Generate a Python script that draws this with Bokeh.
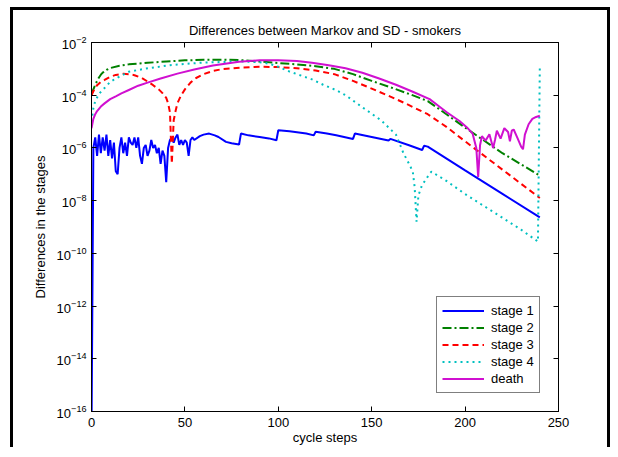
from bokeh.plotting import figure
from bokeh.models import Range1d, FixedTicker, LinearAxis, LogAxis
from bokeh.embed import file_html
from bokeh.resources import INLINE

title_text = "Differences between Markov and SD - smokers"
x_label = "cycle steps"
y_label = "Differences in the stages"
x_ticks = [0, 50, 100, 150, 200, 250]
y_ticks = [1e-16, 1e-14, 1e-12, 1e-10, 1e-8, 1e-6, 1e-4, 1e-2]

stage1_x = list(range(0, 56)) + [58, 60, 63, 66, 68, 72, 75, 79, 80, 84, 90, 95, 99, 100,
                                 106, 115, 119, 120, 126, 131, 140, 141, 150, 159, 160,
                                 170, 177, 178, 180, 200, 220, 240]
stage1_y = [1e-17, 1.0e-6, 2.5e-6, 5.0e-7, 3.2e-6, 6.3e-7, 2.5e-6, 7.9e-7, 3.2e-6, 5.0e-7,
            2.0e-6, 4.0e-7, 1.6e-6, 1.3e-7, 1.0e-7, 1.0e-6, 2.5e-6, 6.3e-7, 1.6e-6, 5.0e-7,
            2.5e-6, 1.6e-6, 1.3e-6, 2.5e-6, 1.0e-6, 2.5e-6, 5.0e-7, 2.5e-7, 1.0e-6, 1.3e-6,
            5.0e-7, 7.9e-7, 2.0e-6, 1.0e-6, 1.3e-6, 6.3e-7, 1.0e-6, 2.5e-7, 7.9e-7, 5.0e-7,
            5.0e-8, 1.0e-6, 2.0e-6, 2.5e-6, 1.6e-6, 2.5e-6, 3.2e-6, 1.3e-6, 2.0e-6, 1.3e-6,
            2.0e-6, 1.6e-6, 5.0e-7, 2.0e-6, 2.5e-6, 2.0e-6,
            2.8e-6, 3.2e-6, 3.5e-6, 3.0e-6, 2.6e-6, 1.7e-6, 1.5e-6, 1.35e-6, 3.5e-6, 3.0e-6,
            2.6e-6, 2.3e-6, 1.95e-6, 4.7e-6, 4.3e-6, 3.5e-6, 3.0e-6, 4.1e-6, 3.5e-6, 3.0e-6,
            2.2e-6, 3.5e-6, 2.6e-6, 1.9e-6, 2.2e-6, 1.26e-6, 8.3e-7, 1.2e-6, 1.12e-6,
            1.4e-7, 1.8e-8, 2.3e-9]

stage2_x = [0, 1, 2, 3, 4, 5, 6, 8, 10, 15, 20, 30, 40, 50, 60, 70, 80, 90, 100, 110,
            120, 130, 140, 150, 160, 170, 180, 190, 200, 220, 240]
stage2_y = [1.1e-4, 1.66e-4, 2.5e-4, 3.5e-4, 4.7e-4, 6.0e-4, 7.2e-4, 9.1e-4, 1.07e-3,
            1.32e-3, 1.48e-3, 1.7e-3, 1.9e-3, 2.1e-3, 2.2e-3, 2.24e-3, 2.14e-3, 1.9e-3,
            1.66e-3, 1.48e-3, 1.26e-3, 1.0e-3, 6.3e-4, 3.5e-4, 2.0e-4, 1.12e-4, 6.0e-5,
            1.9e-5, 5.9e-6, 6.3e-7, 8.9e-8]

stage3_x = [0, 1, 2, 3, 5, 7, 10, 13, 17, 20, 23, 27, 30, 33, 36, 38, 40, 41, 42, 43,
            44, 45, 46, 48, 50, 53, 56, 60, 65, 70, 80, 90, 100, 110, 120, 130, 140,
            150, 160, 170, 180, 190, 200, 220, 240]
stage3_y = [1.0e-4, 1.41e-4, 1.9e-4, 2.4e-4, 3.2e-4, 3.8e-4, 5.0e-4, 5.9e-4, 6.5e-4,
            6.3e-4, 5.75e-4, 4.5e-4, 3.3e-4, 2.4e-4, 1.66e-4, 1.2e-4, 7.9e-5, 5.0e-5,
            2.24e-5, 2.5e-7, 1.12e-5, 2.5e-5, 5.0e-5, 1.0e-4, 1.66e-4, 3.0e-4, 4.5e-4,
            6.3e-4, 8.3e-4, 9.8e-4, 1.12e-3, 1.2e-3, 1.17e-3, 1.05e-3, 8.7e-4, 6.3e-4,
            3.5e-4, 1.78e-4, 8.9e-5, 4.2e-5, 1.9e-5, 6.3e-6, 1.78e-6, 1.5e-7, 1.26e-8]

stage4_x = [0, 1, 2, 4, 6, 10, 13, 20, 29, 42, 60, 80, 90, 95, 100, 106, 118, 124, 131,
            136, 145, 155, 163, 167, 170, 172, 173, 174, 175, 177, 179, 181, 182, 190,
            200, 210, 220, 230, 239, 240]
stage4_y = [1.0e-5, 3.2e-5, 6.0e-5, 1.12e-4, 1.58e-4, 3.2e-4, 4.3e-4, 7.8e-4, 1.02e-3,
            1.38e-3, 1.74e-3, 1.9e-3, 1.78e-3, 1.58e-3, 1.2e-3, 7.9e-4, 4.0e-4, 2.5e-4,
            1.55e-4, 1.0e-4, 3.5e-5, 1.12e-5, 3.2e-6, 6.3e-7, 2.5e-7, 1.26e-7, 3.2e-8,
            1.58e-9, 1.58e-8, 4.0e-8, 6.3e-8, 1.07e-7, 1.26e-7, 5.6e-8, 1.78e-8, 6.3e-9,
            2.24e-9, 7.9e-10, 2.8e-10, 1.26e-3]

death_x = [0, 1, 2, 3, 5, 7, 10, 13, 16, 20, 25, 30, 37, 46, 55, 65, 79, 90, 100, 110,
           118, 127, 136, 145, 154, 163, 172, 181, 186, 190, 197, 201, 204, 206, 207,
           208, 209, 211, 213, 215, 216, 217, 219, 221, 223, 224, 225, 226, 228, 230,
           231, 232, 234, 236, 238, 240]
death_y = [5.6e-6, 1.26e-5, 1.9e-5, 2.5e-5, 3.7e-5, 4.9e-5, 7.1e-5, 9.1e-5, 1.17e-4,
           1.58e-4, 2.3e-4, 3.0e-4, 4.3e-4, 6.6e-4, 9.5e-4, 1.35e-3, 1.86e-3, 2.1e-3,
           2.1e-3, 2.0e-3, 1.7e-3, 1.38e-3, 1.05e-3, 7.1e-4, 4.3e-4, 2.5e-4, 1.35e-4,
           7.1e-5, 3.8e-5, 2.3e-5, 1.05e-5, 6.0e-6, 3.5e-6, 1.0e-6, 7.9e-8, 1.26e-6,
           2.8e-6, 1.9e-6, 3.3e-6, 1.0e-6, 2.0e-6, 4.5e-6, 2.24e-6, 5.6e-6, 4.0e-6,
           1.78e-6, 4.5e-6, 5.0e-6, 2.4e-6, 1.12e-6, 8.9e-7, 3.2e-6, 7.9e-6, 1.26e-5,
           1.5e-5, 1.66e-5]

FONT = "Liberation Sans"

p = figure(frame_width=467, frame_height=369, y_axis_type="log",
           x_range=Range1d(0, 250), y_range=Range1d(1e-16, 1e-2),
           output_backend="svg", toolbar_location=None,
           min_border_left=78, min_border_right=49, min_border_top=32, min_border_bottom=32,
           title=title_text)
p.styles = {"border-top": "3px solid black", "border-left": "3px solid black",
            "border-right": "3px solid black", "margin-left": "10px", "margin-top": "7px"}

p.title.align = "center"
p.title.text_font = FONT
p.title.text_font_size = "13px"
p.title.text_font_style = "normal"
p.title.text_color = "black"
p.title.standoff = 9

p.xgrid.visible = False
p.ygrid.visible = False
p.outline_line_color = "black"
p.outline_line_width = 1
p.background_fill_color = "white"
p.border_fill_color = "white"

p.line(stage1_x, stage1_y, color="#0000FF", line_width=2, legend_label="stage 1")
p.line(stage2_x, stage2_y, color="#008000", line_width=2, line_dash="9 3 2 3", legend_label="stage 2")
p.line(stage3_x, stage3_y, color="#FF0000", line_width=2, line_dash="6 4", legend_label="stage 3")
p.line(stage4_x, stage4_y, color="#00C0C0", line_width=2, line_dash="2 4", legend_label="stage 4")
p.line(death_x, death_y, color="#D010D0", line_width=2, legend_label="death")

xt = FixedTicker(ticks=x_ticks, minor_ticks=[])
yt = FixedTicker(ticks=y_ticks, minor_ticks=[])

bottom_ax = p.below[0]
left_ax = p.left[0]

top_ax = LinearAxis(ticker=xt)
top_ax.major_label_text_alpha = 0
top_ax.major_label_text_font_size = "1px"
top_ax.major_label_standoff = 0
right_ax = LogAxis(ticker=yt)
right_ax.major_label_text_alpha = 0
right_ax.major_label_text_font_size = "1px"
right_ax.major_label_standoff = 0
p.add_layout(top_ax, "above")
p.add_layout(right_ax, "right")

bottom_ax.ticker = xt
left_ax.ticker = yt
for ax in [bottom_ax, left_ax, top_ax, right_ax]:
    ax.major_tick_in = 5
    ax.major_tick_out = 0
    ax.minor_tick_in = 0
    ax.minor_tick_out = 0
    ax.axis_line_color = "black"
    ax.major_tick_line_color = "black"
    ax.major_label_text_font = FONT
    ax.axis_label_text_font = FONT
    ax.axis_label_text_font_size = "13px"
    ax.axis_label_text_font_style = "normal"
    ax.axis_label_text_color = "black"
bottom_ax.major_label_text_color = "black"
left_ax.major_label_text_color = "black"
bottom_ax.major_label_text_font_size = "13px"
left_ax.major_label_text_font_size = "13px"
bottom_ax.axis_label = x_label
left_ax.axis_label = y_label
bottom_ax.major_label_standoff = 6
bottom_ax.axis_label_standoff = 0
left_ax.major_label_standoff = 5
left_ax.axis_label_standoff = 6

lg = p.legend[0]
lg.location = (345, 18)
lg.border_line_color = "black"
lg.border_line_width = 1
lg.background_fill_color = "white"
lg.background_fill_alpha = 1
lg.label_text_font = FONT
lg.label_text_font_size = "13px"
lg.label_text_color = "black"
lg.padding = 5
lg.spacing = 0
lg.margin = 0
lg.glyph_width = 42
lg.glyph_height = 17
lg.label_height = 17
lg.label_standoff = 7

open("out.html", "w").write(file_html(p, INLINE))
